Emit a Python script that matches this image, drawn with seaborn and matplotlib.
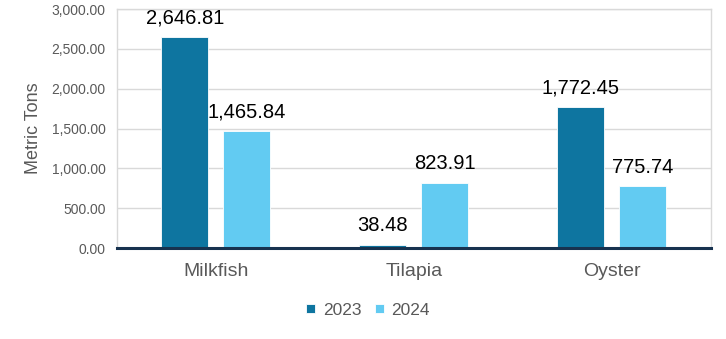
import matplotlib
matplotlib.use("Agg")
import matplotlib.pyplot as plt
import seaborn as sns
import pandas as pd
from matplotlib.ticker import FuncFormatter, MultipleLocator

species = ["Milkfish", "Tilapia", "Oyster"]
years = ["2023", "2024"]
tons_2023 = [2646.81, 38.48, 1772.45]
tons_2024 = [1465.84, 823.91, 775.74]

df = pd.DataFrame({
    "Species": species * 2,
    "Year": [years[0]] * len(species) + [years[1]] * len(species),
    "Tons": tons_2023 + tons_2024,
})

sns.set_theme(style="white")
plt.rcParams["font.family"] = ["Liberation Sans", "DejaVu Sans"]

grey = "#595959"
fig = plt.figure(figsize=(7.26, 3.39), dpi=100)
ax = fig.add_axes([0.161, 0.268, 0.818, 0.705])

sns.barplot(
    data=df, x="Species", y="Tons", hue="Year", order=species, hue_order=years,
    palette=["#0E75A0", "#62CBF2"], saturation=1, width=0.626, gap=0.24,
    edgecolor="white", linewidth=0.6, ax=ax, legend=True,
)

ax.set_ylim(0, 3000)
ax.yaxis.set_major_locator(MultipleLocator(500))
ax.yaxis.set_major_formatter(FuncFormatter(lambda v, p: f"{v:,.2f}"))
ax.grid(axis="y", color="#D9D9D9", linewidth=1)
ax.set_axisbelow(True)

for side in ["left", "right", "top"]:
    ax.spines[side].set_color("#D9D9D9")
    ax.spines[side].set_linewidth(1)
ax.spines["bottom"].set_color("#17324F")
ax.spines["bottom"].set_linewidth(2.2)

ax.tick_params(axis="y", length=0, pad=8, labelsize=10, labelcolor=grey)
ax.tick_params(axis="x", length=0, pad=11, labelsize=14, labelcolor=grey)
ax.set_xlabel("")
ax.set_ylabel("Metric Tons", fontsize=13, color=grey, labelpad=7)

for cont in ax.containers:
    ax.bar_label(cont, fmt="{:,.2f}", padding=7, fontsize=14.5, color="black")

handles, labels = ax.get_legend_handles_labels()
ax.get_legend().remove()
fig.legend(
    handles, labels, loc="center", bbox_to_anchor=(0.507, 0.085), ncol=2,
    frameon=False, fontsize=12.5, labelcolor=grey,
    handlelength=0.5, handleheight=0.5, handletextpad=0.45, columnspacing=0.8,
)

fig.savefig("out.png", dpi=100)
